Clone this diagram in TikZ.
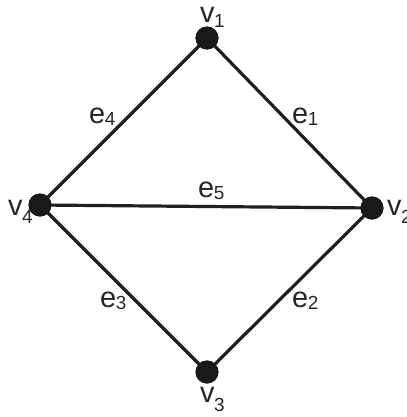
\documentclass[tikz,border=0pt]{standalone}
\usepackage{fontspec}
\setmainfont{Liberation Sans}
\newcommand{\mylbl}[3]{\fontsize{29}{30}\selectfont #1\kern-0.5bp\raisebox{-#3}{\fontsize{19}{19}\selectfont #2}}
\tikzset{
  edge/.style={draw=black!88, line width=3.2bp},
  vert/.style={circle, fill=black!90, minimum size=23bp, inner sep=0pt},
  lbl/.style={anchor=base west, inner sep=0pt, text=black!85}
}
\begin{document}
\begin{tikzpicture}[x=1bp,y=-1bp]
\useasboundingbox (0,0) rectangle (407,417);
\fill[white] (0,0) rectangle (407,417);
\node[vert] (v1) at (207,38) {};
\node[vert] (v2) at (372,208) {};
\node[vert] (v3) at (207,372) {};
\node[vert] (v4) at (40,205) {};
\begin{scope}[on background layer/.try]
\end{scope}
\draw[edge] (v1.center) -- (v2.center);
\draw[edge] (v1.center) -- (v4.center);
\draw[edge] (v4.center) -- (v2.center);
\draw[edge] (v4.center) -- (v3.center);
\draw[edge] (v3.center) -- (v2.center);
\node[vert] at (v1) {};
\node[vert] at (v2) {};
\node[vert] at (v3) {};
\node[vert] at (v4) {};
\node[lbl] (lv1) at (200,22) {\mylbl{v}{1}{5bp}};
\node[lbl] (lv4) at (8,215) {\mylbl{v}{4}{8bp}};
\node[lbl] (lv2) at (387,215) {\mylbl{v}{2}{8bp}};
\node[lbl] (lv3) at (200,402) {\mylbl{v}{3}{9bp}};
\node[lbl] (le4) at (89,123) {\mylbl{e}{4}{2bp}};
\node[lbl] (le1) at (292,123) {\mylbl{e}{1}{2bp}};
\node[lbl] (le5) at (198,197) {\mylbl{e}{5}{2bp}};
\node[lbl] (le3) at (100,307) {\mylbl{e}{3}{2bp}};
\node[lbl] (le2) at (292,307) {\mylbl{e}{2}{2bp}};
\end{tikzpicture}
\end{document}
